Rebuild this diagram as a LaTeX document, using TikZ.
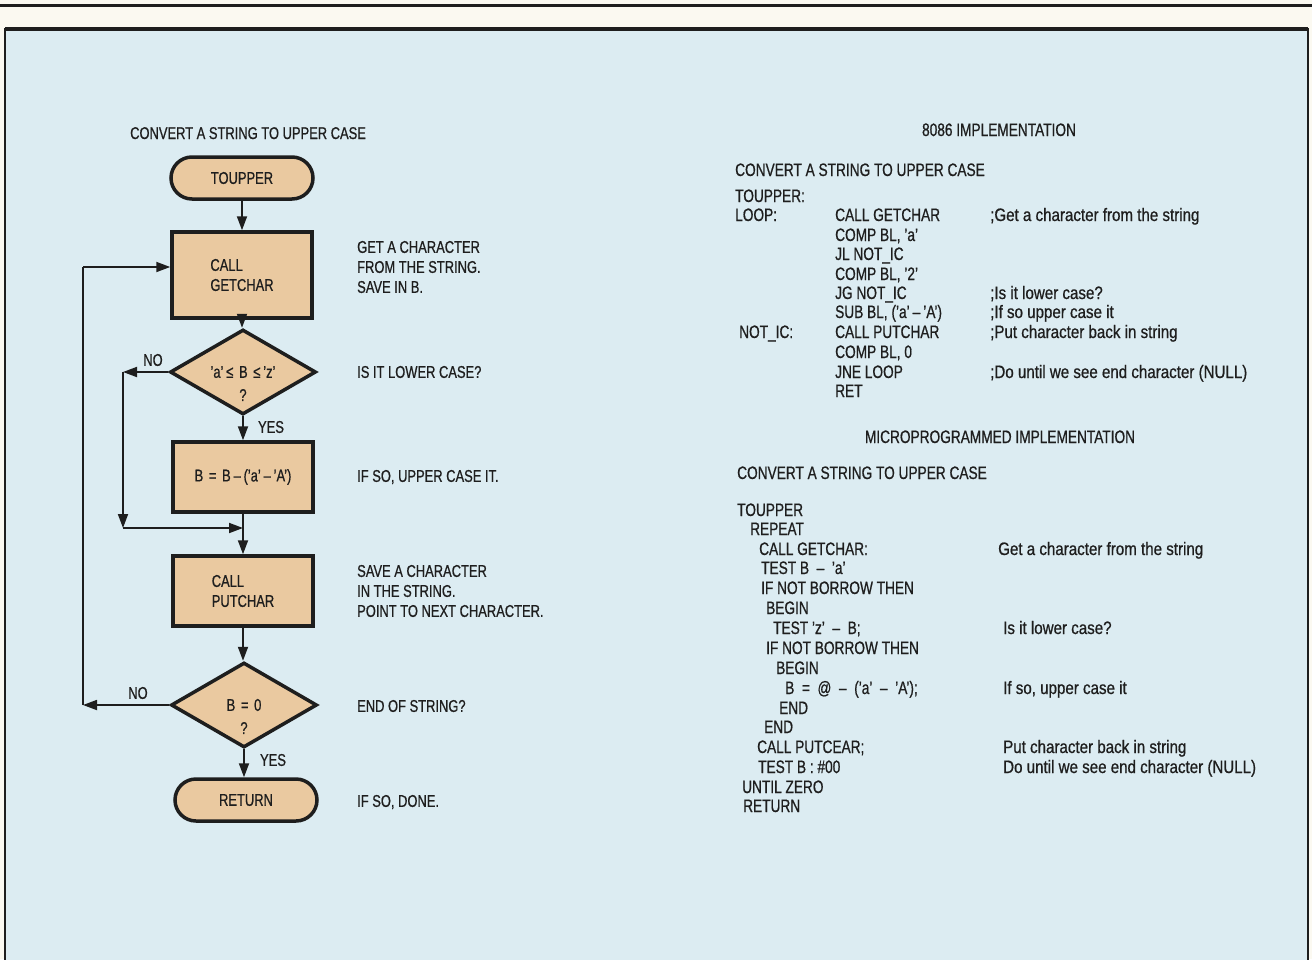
\documentclass[tikz,border=0pt]{standalone}
\usepackage{fontspec}
\setmainfont[FakeStretch=0.76,FakeBold=0.7]{Liberation Sans}
\newfontfamily\lcfont[FakeStretch=0.84,FakeBold=0.7]{Liberation Sans}
\usetikzlibrary{shapes.geometric,arrows.meta}
\definecolor{cream}{RGB}{251,249,241}
\definecolor{panel}{RGB}{220,236,242}
\definecolor{tanfill}{RGB}{234,201,160}
\definecolor{ink}{RGB}{30,30,30}
\begin{document}
\begin{tikzpicture}[x=1pt,y=-1pt,
  every node/.style={text=ink},
  fctxt/.style={font=\fontsize{17}{20}\selectfont},
  desctxt/.style={fctxt, anchor=west, align=left, inner sep=0pt},
  codetxt/.style={font=\fontsize{18}{20}\selectfont, anchor=base west, inner sep=0pt},
  cmttxt/.style={font=\lcfont\fontsize{18}{20}\selectfont, anchor=base west, inner sep=0pt},
  headtxt/.style={font=\fontsize{18}{20}\selectfont, anchor=base, inner sep=0pt},
  procbox/.style={draw=ink, line width=3.5pt, fill=tanfill, minimum width=140pt, fctxt, align=left},
  termbox/.style={draw=ink, line width=3.5pt, fill=tanfill, rounded corners=21pt, minimum width=142pt, minimum height=42pt, fctxt},
  decbox/.style={diamond, draw=ink, line width=3.5pt, fill=tanfill, minimum width=146pt, minimum height=85pt, inner sep=0pt},
  lbltxt/.style={fctxt, inner sep=0pt},
  connline/.style={draw=ink, line width=1.8pt},
  arrline/.style={connline, -{Triangle[length=14pt,width=10pt]}},
]
\useasboundingbox (0,0) rectangle (1312,959);
\fill[cream] (0,0) rectangle (1312,959);
\draw[ink, line width=3pt] (0,5) -- (1312,5);
\fill[panel] (5,29) rectangle (1308,965);
\draw[ink, line width=1.8pt] (5,965) -- (5,29) -- (1308,29) -- (1308,965);
\draw[ink, line width=3.5pt] (5,29) -- (1308,29);

% ---------- flowchart ----------
\node[fctxt, anchor=base west, inner sep=0pt] (ftitle) at (130,139) {CONVERT A STRING TO UPPER CASE};
\node[termbox] (start) at (242,178) {TOUPPER};
\node[procbox, minimum height=86pt] (getc) at (242,275) {CALL\\GETCHAR};
\node[decbox] (d1) at (243,372) {};
\node[lbltxt] (d1a) at (243,372) {'a'\,≤\,\,B\,\,≤\,'z'};
\node[lbltxt] (d1b) at (243,395) {?};
\node[procbox, minimum height=70pt] (conv) at (243,477) {B\,\,=\,\,B\,–\,('a'\,–\,'A')};
\node[procbox, minimum height=70pt] (putc) at (243,591) {CALL\\PUTCHAR};
\node[decbox] (d2) at (244,705) {};
\node[lbltxt] (d2a) at (244,705) {B\,\,=\,\,0};
\node[lbltxt] (d2b) at (244,728) {?};
\node[termbox] (ret) at (246,800) {RETURN};

\coordinate (n1) at (123,372);
\coordinate (n2) at (123,528);
\coordinate (j1) at (243,528);
\coordinate (m1) at (83,705);
\coordinate (m2) at (83,267);

\draw[arrline] (start) -- (getc);
\draw[arrline] (getc.south) -- (getc.south |- d1.north);
\draw[arrline] (d1) -- (conv);
\draw[connline] (conv) -- (j1);
\draw[arrline] (j1) -- (putc);
\draw[arrline] (putc.south) -- (putc.south |- d2.north);
\draw[arrline] (d2.south) -- (d2.south |- ret.north);
\draw[arrline] (d1.west) -- (n1);
\draw[arrline] (n1) -- (n2);
\draw[arrline] (n2) -- (j1);
\draw[arrline] (d2.west) -- (m1);
\draw[connline] (m1) -- (m2);
\draw[arrline] (m2) -- (getc.west |- m2);

\node[lbltxt] (no1) at (153,360) {NO};
\node[lbltxt] (yes1) at (271,427) {YES};
\node[lbltxt] (no2) at (138,693) {NO};
\node[lbltxt] (yes2) at (273,760) {YES};

\node[desctxt] (dg) at (357,267) {GET A CHARACTER\\FROM THE STRING.\\SAVE IN B.};
\node[desctxt] (dd1) at (357,372) {IS IT LOWER CASE?};
\node[desctxt] (dc) at (357,477) {IF SO, UPPER CASE IT.};
\node[desctxt] (dp) at (357,591) {SAVE A CHARACTER\\IN THE STRING.\\POINT TO NEXT CHARACTER.};
\node[desctxt] (dd2) at (357,706) {END OF STRING?};
\node[desctxt] (dr) at (357,802) {IF SO, DONE.};

% ---------- 8086 ----------
\node[headtxt] (h1) at (999,136) {8086 IMPLEMENTATION};
\node[codetxt] (a0) at (735,176) {CONVERT A STRING TO UPPER CASE};
\node[codetxt] (a1) at (735,202) {TOUPPER:};
\node[codetxt] (a2) at (735,221) {LOOP:};
\node[codetxt] (a3) at (835,221) {CALL GETCHAR};
\node[cmttxt] (a4) at (990,221) {;Get a character from the string};
\node[codetxt] (a5) at (835,241) {COMP BL, 'a'};
\node[codetxt] (a6) at (835,260) {JL NOT\_IC};
\node[codetxt] (a7) at (835,280) {COMP BL, '2'};
\node[codetxt] (a8) at (835,299) {JG NOT\_IC};
\node[cmttxt] (a9) at (990,299) {;Is it lower case?};
\node[codetxt] (a10) at (835,318) {SUB BL, ('a'\,–\,'A')};
\node[cmttxt] (a11) at (990,318) {;If so upper case it};
\node[codetxt] (a12) at (739,338) {NOT\_IC:};
\node[codetxt] (a13) at (835,338) {CALL PUTCHAR};
\node[cmttxt] (a14) at (990,338) {;Put character back in string};
\node[codetxt] (a15) at (835,358) {COMP BL, 0};
\node[codetxt] (a16) at (835,378) {JNE LOOP};
\node[cmttxt] (a17) at (990,378) {;Do until we see end character (NULL)};
\node[codetxt] (a18) at (835,397) {RET};

% ---------- microprogrammed ----------
\node[headtxt] (h2) at (1000,443) {MICROPROGRAMMED IMPLEMENTATION};
\node[codetxt] (b0) at (737,479) {CONVERT A STRING TO UPPER CASE};
\node[codetxt] (b1) at (737,516) {TOUPPER};
\node[codetxt] (b2) at (750,535) {REPEAT};
\node[codetxt] (b3) at (759,555) {CALL GETCHAR:};
\node[cmttxt] (b4) at (998,555) {Get a character from the string};
\node[codetxt] (b5) at (761,574) {TEST B\ \ –\ \ 'a'};
\node[codetxt] (b6) at (761,594) {IF NOT BORROW THEN};
\node[codetxt] (b7) at (766,614) {BEGIN};
\node[codetxt] (b8) at (773,634) {TEST 'z'\ \ –\ \ B;};
\node[cmttxt] (b9) at (1003,634) {Is it lower case?};
\node[codetxt] (b10) at (766,654) {IF NOT BORROW THEN};
\node[codetxt] (b11) at (776,674) {BEGIN};
\node[codetxt] (b12) at (785,694) {B\ \ =\ \ @\ \ –\ \ ('a'\ \ –\ \ 'A');};
\node[cmttxt] (b13) at (1003,694) {If so, upper case it};
\node[codetxt] (b14) at (779,714) {END};
\node[codetxt] (b15) at (764,733) {END};
\node[codetxt] (b16) at (757,753) {CALL PUTCEAR;};
\node[cmttxt] (b17) at (1003,753) {Put character back in string};
\node[codetxt] (b18) at (758,773) {TEST B : \#00};
\node[cmttxt] (b19) at (1003,773) {Do until we see end character (NULL)};
\node[codetxt] (b20) at (742,793) {UNTIL ZERO};
\node[codetxt] (b21) at (743,812) {RETURN};
\end{tikzpicture}
\end{document}
